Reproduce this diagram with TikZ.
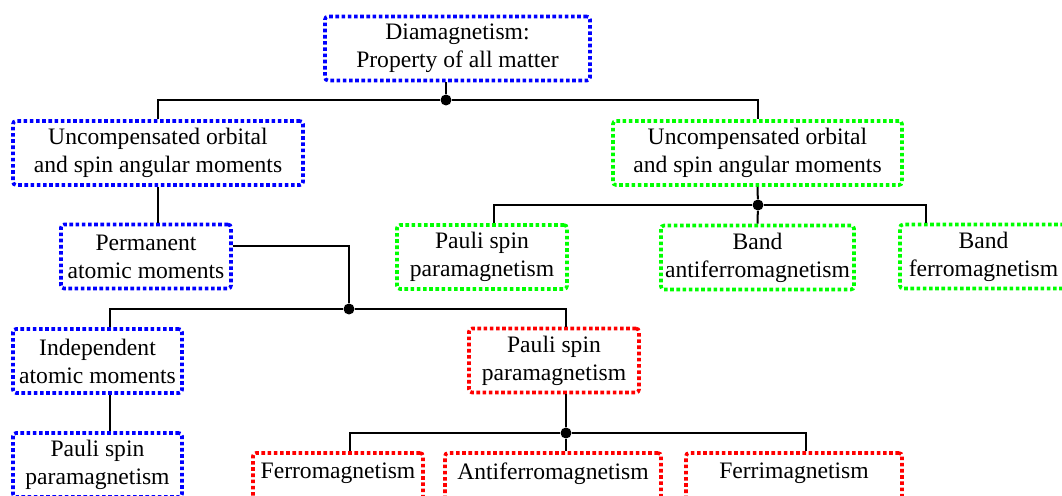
\documentclass[tikz,border=0pt]{standalone}
\usepackage{fontspec}
\setmainfont{Liberation Serif}
\usetikzlibrary{positioning}

\begin{document}
\begin{tikzpicture}[x=0.5pt,y=-0.5pt,font=\fontsize{11.8pt}{14pt}\selectfont,
    every node/.style={align=center},
    box/.style={rounded corners=1.5pt,line width=1.8pt,dash pattern=on 1.8pt off 1.3pt,inner sep=1pt,minimum height=32pt},
    bluebox/.style={box,draw=blue},
    greenbox/.style={box,draw=green},
    redbox/.style={box,draw=red},
    link/.style={line width=1pt},
    joint/.style={circle,fill,inner sep=0pt,minimum size=5.5pt}]
    \useasboundingbox (0,0) rectangle (1062,496);
    % boxes
    \node[bluebox,minimum width=132.5pt] (dia) at (457.5,48.5) {Diamagnetism:\\Property of all matter};
    \node[bluebox,minimum width=145pt] (ublue) at (158,153) {Uncompensated orbital\\and spin angular moments};
    \node[greenbox,minimum width=144.5pt] (ugreen) at (757.5,153) {Uncompensated orbital\\and spin angular moments};
    \node[bluebox,minimum width=85pt] (perm) at (146,256.5) {Permanent\\atomic moments};
    \node[greenbox,minimum width=85pt] (gpauli) at (482,257) {Pauli spin\\paramagnetism};
    \node[greenbox,minimum width=96.5pt] (gbandaf) at (757.5,257.5) {Band\\antiferromagnetism};
    \node[greenbox,minimum width=83.5pt] (gbandf) at (983.5,256.5) {Band\\ferromagnetism};
    \node[bluebox,minimum width=84.5pt] (indep) at (97.5,361) {Independent\\atomic moments};
    \node[redbox,minimum width=85pt] (rpauli) at (554,360.5) {Pauli spin\\paramagnetism};
    \node[bluebox,minimum width=84.5pt] (bpauli) at (97.5,465) {Pauli spin\\paramagnetism};
    \node[redbox,minimum width=85pt] (rferro) at (338,485) {Ferromagnetism\\\mbox{}};
    \node[redbox,minimum width=108pt] (rantif) at (553,485) {Antiferromagnetism\\\mbox{}};
    \node[redbox,minimum width=108pt] (rferri) at (794,485) {Ferrimagnetism\\\mbox{}};
    % junctions
    \node[joint] (j1) at (446,100) {};
    \node[joint] (j2) at (758,205) {};
    \node[joint] (j3) at (349,309) {};
    \node[joint] (j4) at (566,433) {};
    % connectors
    \draw[link] (dia.south -| j1) -- (j1);
    \draw[link] (ublue.north) |- (j1) -| (ugreen.north);
    \draw[link] (ublue.south) -- (ublue.south |- perm.north);
    \draw[link] ([yshift=5.25pt]perm.east) -| (j3);
    \draw[link] ([xshift=6pt]indep.north) |- (j3) -| ([xshift=6pt]rpauli.north);
    \draw[link] ([xshift=6pt]indep.south) -- ([xshift=6pt]bpauli.north);
    \draw[link] (ugreen.south) -- (j2);
    \draw[link] ([xshift=6pt]gpauli.north) |- (j2) -| ([xshift=-28.75pt]gbandf.north);
    \draw[link] (j2) -- (gbandaf.north);
    \draw[link] ([xshift=6pt]rpauli.south) -- (j4);
    \draw[link] ([xshift=6pt]rferro.north) |- (j4) -| ([xshift=6pt]rferri.north);
    \draw[link] (j4) -- (j4 |- rantif.north);
\end{tikzpicture}
\end{document}
